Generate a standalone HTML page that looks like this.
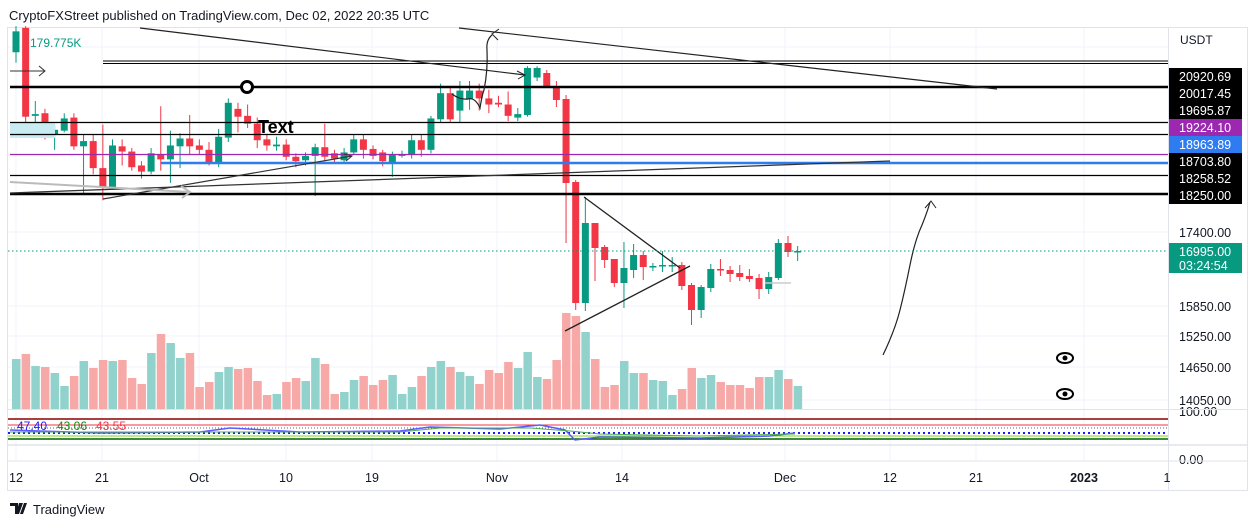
<!DOCTYPE html>
<html><head><meta charset="utf-8">
<style>
body{margin:0;background:#fff;width:1257px;height:526px;overflow:hidden;font-family:"Liberation Sans",sans-serif}
</style></head><body>
<svg id="s" width="1257" height="526" xmlns="http://www.w3.org/2000/svg" font-family="Liberation Sans, sans-serif">
<rect width="1257" height="526" fill="#fff"/>
<text x="9" y="20" font-size="13" fill="#131722">CryptoFXStreet published on TradingView.com, Dec 02, 2022 20:35 UTC</text>
<rect x="7.5" y="27.5" width="1240" height="463" fill="none" stroke="#e0e3eb"/>
<g id="grid" stroke="#f0f3fa" stroke-width="1"></g>
<g id="vol"></g>
<g id="cand"></g>
<g id="draw" fill="none"></g>
<g id="axis"></g>
</svg>
<script>
const NS="http://www.w3.org/2000/svg";
function el(p,t,a,txt){const e=document.createElementNS(NS,t);for(const k in a)e.setAttribute(k,a[k]);if(txt!==undefined)e.textContent=txt;document.getElementById(p).appendChild(e);return e;}
// grid
[16,102,199,286,372,497,622,785,890,976,1084].forEach(x=>el('grid','line',{x1:x,y1:28,x2:x,y2:461}));
[47,122,232,306,336,367,400].forEach(y=>el('grid','line',{x1:8,y1:y,x2:1168,y2:y}));
// candles: [o,c,h,l] ; first 55 in zoom1 units (scale .871)
const A=[[60,36,30,72,1],[32,134,30,145],[133,131,116,158],[130,155,125,160],[155,149,143,172],[150,136,130,152],[135,168,130,172],[168,162,155,222],[162,193,155,200],[193,215,143,230],[215,167,160,217],[168,174,160,190],[174,192,170,196],[190,197,185,205],[197,176,170,200],[177,183,122,196],[183,167,150,210],[168,159,153,193],[159,168,132,178],[167,172,160,178],[172,187,163,190],[187,157,148,192],[158,118,113,163],[125,134,118,152],[133,142,120,147],[142,161,135,170],[160,167,155,173],[168,166,157,173],[166,180,160,184],[180,185,176,192],[184,179,175,190],[179,169,165,225],[169,180,142,185],[176,182,172,188],[184,175,170,186],[175,160,155,178],[160,172,155,182],[171,179,167,183],[175,185,172,191],[186,178,174,203],[179,177,173,181],[178,161,155,182],[161,172,155,180],[172,136,133,176],[137,107,96,141],[107,137,100,141],[127,104,93,140],[114,104,93,126],[104,113,96,127],[113,120,103,130],[118,120,110,123],[120,133,105,139],[135,131,124,139],[132,78,76,134],[89,78,76,93]];
const B=[[73,86,70,88],[87,100,81,107],[99,183,95,243],[182,303,180,310],[303,223,197,311],[223,248,223,281],[247,260,245,268],[259,283,259,287],[283,268,242,308],[270,255,244,278],[255,267,251,280],[267,266,263,271],[266,265,251,272],[266,265,257,272],[265,286,262,290],[285,310,283,325],[310,287,285,318],[288,269,264,292],[269,270,259,276],[270,274,266,282],[273,277,265,281],[276,279,269,282],[278,289,274,299],[289,277,272,294],[278,243,239,280],[243,252,236,257],[252,251,246,261]];
const C=A.map(a=>a.slice(0,4).map(v=>v*0.871)).concat(B);
const G='#089981',R='#f23645';
C.forEach((c,i)=>{const x=16+9.65*i;const up=c[1]<c[0];const col=up?G:R;
 el('cand','line',{x1:x,y1:c[2],x2:x,y2:c[3],stroke:col,'stroke-width':1});
 const t=Math.min(c[0],c[1]),h=Math.max(1.5,Math.abs(c[1]-c[0]));
 el('cand','rect',{x:x-3.5,y:t,width:7,height:h,fill:col});
 C[i].up=up;});
const V=[359,354,366,367,373,386,376,361,368,360,361,360,378,384,353,334,343,358,353,387,382,372,367,369,368,381,395,394,382,378,381,358,364,394,392,380,376,385,380,375,394,387,376,367,361,367,372,376,384,370,373,362,368,352,377,379,360,313,316,332,359,387,385,361,373,373,380,381,395,389,368,378,375,382,385,385,388,377,377,370,379,386];
V.forEach((v,i)=>{const x=16+9.65*i;el('vol','rect',{x:x-4,y:v,width:8.5,height:409-v,fill:(C[i]&&C[i].up)?'#92d2cc':'#f7a9a7'});});
// drawings
const D=[
['line',{x1:103,y1:61,x2:1168,y2:61,stroke:'#000'}],['line',{x1:103,y1:63.5,x2:1168,y2:63.5,stroke:'#000'}],
['rect',{x:10,y:123,width:45,height:15,fill:'#c8ecf2',stroke:'none'}],
['line',{x1:10,y1:87,x2:1168,y2:87,stroke:'#000','stroke-width':2.5}],
['line',{x1:10,y1:122.5,x2:1168,y2:122.5,stroke:'#000','stroke-width':1.3}],
['line',{x1:10,y1:134.5,x2:1168,y2:134.5,stroke:'#000','stroke-width':1.3}],
['line',{x1:10,y1:154.5,x2:1168,y2:154.5,stroke:'#9c27b0','stroke-width':1.3}],
['line',{x1:161,y1:163,x2:1168,y2:163,stroke:'#2f7bf0','stroke-width':2.5}],
['line',{x1:10,y1:175.5,x2:1168,y2:175.5,stroke:'#000','stroke-width':1.3}],
['line',{x1:10,y1:194,x2:1168,y2:194,stroke:'#000','stroke-width':2.5}],
['line',{x1:10,y1:193,x2:890,y2:161,stroke:'#333','stroke-width':1.3}],
['line',{x1:103,y1:199,x2:352,y2:156,stroke:'#333','stroke-width':1.2}],
['polyline',{points:'344,154 352,156 346,161',stroke:'#333'}],
['line',{x1:10,y1:182,x2:190,y2:192,stroke:'#bbb','stroke-width':2}],
['polyline',{points:'181,186 190,192 182,198',stroke:'#bbb','stroke-width':2}],
['line',{x1:140,y1:28,x2:525,y2:75,stroke:'#222','stroke-width':1.2}],
['polyline',{points:'517,71 525,75 518,79',stroke:'#222'}],
['line',{x1:459,y1:28,x2:997,y2:89,stroke:'#222','stroke-width':1.2}],
['line',{x1:10,y1:71,x2:45,y2:71,stroke:'#333'}],['polyline',{points:'39,66 45,71 39,76',stroke:'#333'}],
['circle',{cx:247,cy:87,r:5.5,stroke:'#000','stroke-width':3,fill:'#fff'}],
['path',{d:'M452,94 Q460,100 468,99 Q475,97 480,108 Q482,95 484,90 Q488,70 487,50 Q486,40 492,35',stroke:'#222','stroke-width':1.2}],
['polyline',{points:'499,29 492,34 498,40',stroke:'#222'}],
['line',{x1:584,y1:197,x2:680,y2:268,stroke:'#222','stroke-width':1.3}],
['line',{x1:565,y1:331,x2:690,y2:266,stroke:'#222','stroke-width':1.3}],
['line',{x1:765,y1:283,x2:791,y2:283,stroke:'#ccc','stroke-width':1.5}],
['path',{d:'M883,355 Q895,330 900,310 Q905,290 910,265 Q915,240 922,225 Q928,210 930,202',stroke:'#222','stroke-width':1.2}],
['polyline',{points:'925,208 931,201 936,208',stroke:'#222'}],
['line',{x1:8,y1:251,x2:1168,y2:251,stroke:'#089981','stroke-dasharray':'1.5 2.5'}]];
D.forEach(d=>el('draw',d[0],d[1]));
const ax='axis';
el(ax,'text',{x:258,y:133,'font-size':18,'font-weight':'bold',fill:'#000'},'Text');
el(ax,'text',{x:30,y:47,'font-size':12,fill:'#089981'},'179.775K');
// eyes
[358,394].forEach(y=>{el(ax,'ellipse',{cx:1065,cy:y,rx:8,ry:5,fill:'#fff',stroke:'#000','stroke-width':2});el(ax,'circle',{cx:1065,cy:y,r:2.5,fill:'#000'});});
// price axis
el(ax,'line',{x1:1168.5,y1:28,x2:1168.5,y2:490,stroke:'#e0e3eb'});
el(ax,'text',{x:1180,y:44,'font-size':12,fill:'#131722'},'USDT');
const L=[['20920.69','#000'],['20017.45','#000'],['19695.87','#000'],['19224.10','#9c27b0'],['18963.89','#2f7bf0'],['18703.80','#000'],['18258.52','#000'],['18250.00','#000']];
L.forEach((l,i)=>{const y=68+17*i;el(ax,'rect',{x:1169,y:y,width:73,height:17,fill:l[1]});el(ax,'text',{x:1179,y:y+13,'font-size':12.5,fill:'#fff'},l[0]);});
el(ax,'rect',{x:1169,y:243,width:73,height:30,fill:'#089981'});
el(ax,'text',{x:1179,y:256,'font-size':12.5,fill:'#fff'},'16995.00');
el(ax,'text',{x:1179,y:270,'font-size':12.5,fill:'#fff'},'03:24:54');
[['17400.00',237],['15850.00',311],['15250.00',341],['14650.00',372],['14050.00',405],['100.00',416],['0.00',464]].forEach(t=>el(ax,'text',{x:t[0]=='0.00'?1179:1179,y:t[1],'font-size':12.5,fill:'#131722'},t[0]));
// RSI pane
el(ax,'line',{x1:8,y1:409.5,x2:1247,y2:409.5,stroke:'#e0e3eb'});
[[419,'#8b0000',1.5],[425,'#f23645',1],[439,'#006400',1.5],[436,'#7cd321',1]].forEach(l=>el(ax,'line',{x1:8,y1:l[0],x2:1168,y2:l[0],stroke:l[1],'stroke-width':l[2]}));
el(ax,'line',{x1:8,y1:428,x2:1168,y2:428,stroke:'#666','stroke-dasharray':'1 2'});
el(ax,'line',{x1:8,y1:433,x2:1168,y2:433,stroke:'#1a1aff','stroke-width':2,'stroke-dasharray':'2 3'});
el(ax,'path',{d:'M10,430 L100,433 L200,432 L230,428 L300,432 L400,431 L430,427 L500,429 L540,425 L565,430 L575,440 L600,437 L700,438 L770,436 L795,433',stroke:'#5b5bff','stroke-width':1.5,fill:'none'});
el(ax,'path',{d:'M10,432 L400,432 L440,428 L530,428 L570,431 L600,434 L700,436 L795,434',stroke:'#4caf50','stroke-width':1,fill:'none'});
el(ax,'line',{x1:8,y1:445,x2:1247,y2:445,stroke:'#e0e3eb','stroke-width':1.5});
el(ax,'text',{x:17,y:430,'font-size':12,fill:'#1a1aff'},'47.40');
el(ax,'text',{x:57,y:430,'font-size':12,fill:'#138a13'},'43.06');
el(ax,'text',{x:96,y:430,'font-size':12,fill:'#f23645'},'43.55');
el(ax,'line',{x1:8,y1:461,x2:1247,y2:461,stroke:'#e0e3eb'});
[['12',16],['21',102],['Oct',199],['10',286],['19',372],['Nov',497],['14',622],['Dec',785],['12',890],['21',976],['1',1167]].forEach(t=>el(ax,'text',{x:t[1],y:482,'font-size':12.5,fill:'#131722','text-anchor':'middle'},t[0]));
el(ax,'text',{x:1084,y:482,'font-size':12.5,'font-weight':'bold',fill:'#131722','text-anchor':'middle'},'2023');
// logo
el(ax,'path',{d:'M10,503 h8 v11 h-3 v-8 h-5z M19,503 h4 l-4,11 h-3z M24,503 h3 l-4,11 h-3z',fill:'#131722'});
el(ax,'text',{x:33,y:514,'font-size':13,fill:'#131722'},'TradingView');
</script>
</body></html>
